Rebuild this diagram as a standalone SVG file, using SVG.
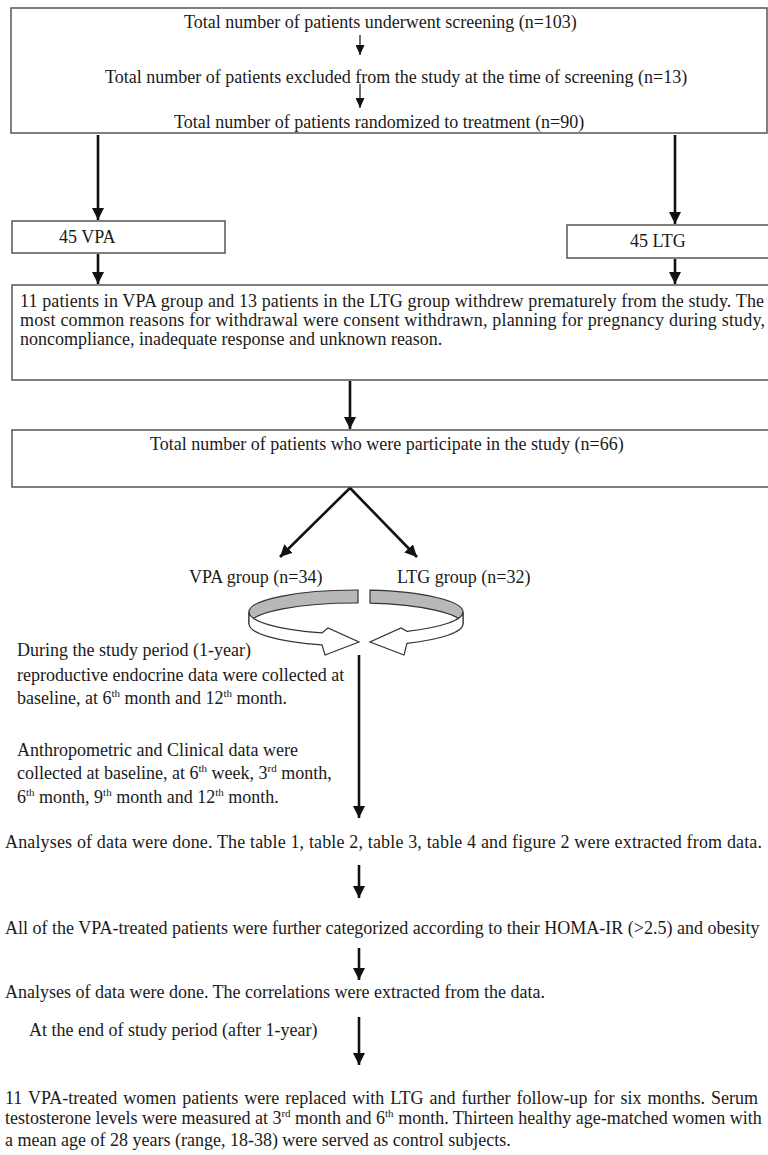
<svg xmlns="http://www.w3.org/2000/svg" width="768" height="1155" viewBox="0 0 768 1155">
<style>
.t{font-family:"Liberation Serif","Times New Roman",serif;font-size:18px;fill:#1a1a1a}
.s{font-size:11px}
.box{fill:#fff;stroke:#555;stroke-width:1.5}
.thin{stroke:#111;stroke-width:1.2;fill:none}
.thick{stroke:#111;stroke-width:2.6;fill:none}
.ring{stroke:#333;stroke-width:1.2}
</style>
<defs>
<marker id="ah" markerUnits="userSpaceOnUse" markerWidth="12" markerHeight="12" refX="12" refY="6" orient="auto"><path d="M0,0 L12,6 L0,12 Z" fill="#111"/></marker>
<marker id="as" markerUnits="userSpaceOnUse" markerWidth="10" markerHeight="9" refX="10" refY="4.5" orient="auto"><path d="M0,0 L10,4.5 L0,9 Z" fill="#111"/></marker>
</defs>
<rect width="768" height="1155" fill="#fff"/>

<g id="screening">
<rect class="box" x="11" y="8" width="756" height="125"/>
<text class="t" x="184" y="28">Total number of patients underwent screening (n=103)</text>
<text class="t" x="105" y="83">Total number of patients excluded from the study at the time of screening (n=13)</text>
<text class="t" x="174" y="128">Total number of patients randomized to treatment (n=90)</text>
</g>

<g id="vpa45">
<rect class="box" x="12" y="221" width="213" height="32"/>
<text class="t" x="59" y="243">45 VPA</text>
</g>

<g id="ltg45">
<rect class="box" x="567" y="225" width="220" height="33"/>
<text class="t" x="630" y="247">45 LTG</text>
</g>

<g id="withdrawn">
<rect class="box" x="12" y="285" width="780" height="95"/>
<text class="t" x="20" y="307" textLength="744" lengthAdjust="spacing">11 patients in VPA group and 13 patients in the LTG group withdrew prematurely from the study. The</text>
<text class="t" x="20" y="326" textLength="745" lengthAdjust="spacing">most common reasons for withdrawal were consent withdrawn, planning for pregnancy during study,</text>
<text class="t" x="20" y="344.5">noncompliance, inadequate response and unknown reason.</text>
</g>

<g id="participated">
<rect class="box" x="12" y="430" width="780" height="57"/>
<text class="t" x="150" y="450">Total number of patients who were participate in the study (n=66)</text>
</g>

<g id="vpa-group">
<text class="t" x="189" y="583">VPA group (n=34)</text>
</g>
<g id="ltg-group">
<text class="t" x="397" y="583">LTG group (n=32)</text>
</g>

<g id="cycle">
<path class="ring" fill="#b8b8b8" d="M358,590 A107,22 0 0 0 249,612 L249,624 A107,22 0 0 1 358,603 Z"/>
<path class="ring" fill="#fff" d="M249,612 A107,22 0 0 0 322,632.9 L328,628 L359,642 L325,655 L322,644.9 A107,22 0 0 1 249,624 Z"/>
<path class="ring" fill="#b8b8b8" d="M370,590.2 A107,22 0 0 1 463,612 L463,624 A107,22 0 0 0 370,603.2 Z"/>
<path class="ring" fill="#fff" d="M463,612 A107,22 0 0 1 407,631.3 L401,628 L370,642 L404,655 L407,643.3 A107,22 0 0 0 463,624 Z"/>
</g>

<g id="study-period">
<text class="t" x="17" y="656">During the study period (1-year)</text>
<text class="t" x="17" y="681">reproductive endocrine data were collected at</text>
<text class="t" x="17" y="704">baseline, at 6<tspan class="s" dy="-7">th</tspan><tspan dy="7"> month and 12</tspan><tspan class="s" dy="-7">th</tspan><tspan dy="7"> month.</tspan></text>
<text class="t" x="17" y="756">Anthropometric and Clinical data were</text>
<text class="t" x="17" y="779">collected at baseline, at 6<tspan class="s" dy="-7">th</tspan><tspan dy="7"> week, 3</tspan><tspan class="s" dy="-7">rd</tspan><tspan dy="7"> month,</tspan></text>
<text class="t" x="17" y="803">6<tspan class="s" dy="-7">th</tspan><tspan dy="7"> month, 9</tspan><tspan class="s" dy="-7">th</tspan><tspan dy="7"> month and 12</tspan><tspan class="s" dy="-7">th</tspan><tspan dy="7"> month.</tspan></text>
</g>

<g id="analyses1">
<text class="t" x="5" y="848" textLength="757" lengthAdjust="spacing">Analyses of data were done. The table 1, table 2, table 3, table 4 and figure 2 were extracted from data.</text>
</g>

<g id="categorized">
<text class="t" x="5" y="934">All of the VPA-treated patients were further categorized according to their HOMA-IR (&gt;2.5) and obesity</text>
</g>

<g id="analyses2">
<text class="t" x="5" y="998">Analyses of data were done. The correlations were extracted from the data.</text>
</g>

<g id="end-label">
<text class="t" x="29" y="1036">At the end of study period (after 1-year)</text>
</g>

<g id="replaced">
<text class="t" x="5" y="1104" word-spacing="1.5">11 VPA-treated women patients were replaced with LTG and further follow-up for six months. Serum</text>
<text class="t" x="5" y="1124" word-spacing="0">testosterone levels were measured at 3<tspan class="s" dy="-7">rd</tspan><tspan dy="7"> month and 6</tspan><tspan class="s" dy="-7">th</tspan><tspan dy="7"> month. Thirteen healthy age-matched women with</tspan></text>
<text class="t" x="5" y="1146">a mean age of 28 years (range, 18-38) were served as control subjects.</text>
</g>

<g id="connectors">
<line class="thin" x1="360" y1="35" x2="360" y2="55" marker-end="url(#as)"/>
<line class="thin" x1="360" y1="84" x2="360" y2="108" marker-end="url(#as)"/>
<line class="thick" x1="98" y1="135" x2="98" y2="220" marker-end="url(#ah)"/>
<line class="thick" x1="675" y1="135" x2="675" y2="224" marker-end="url(#ah)"/>
<line class="thick" x1="98" y1="254" x2="98" y2="284" marker-end="url(#ah)"/>
<line class="thick" x1="675" y1="259" x2="675" y2="284" marker-end="url(#ah)"/>
<line class="thick" x1="350" y1="381" x2="350" y2="429" marker-end="url(#ah)"/>
<line class="thick" x1="350" y1="488" x2="280" y2="557" marker-end="url(#ah)"/>
<line class="thick" x1="350" y1="488" x2="417" y2="557" marker-end="url(#ah)"/>
<line class="thick" x1="359" y1="655" x2="359" y2="818" marker-end="url(#ah)"/>
<line class="thick" x1="359" y1="865" x2="359" y2="898" marker-end="url(#ah)"/>
<line class="thick" x1="359" y1="948" x2="359" y2="980" marker-end="url(#ah)"/>
<line class="thick" x1="359" y1="1017" x2="359" y2="1065" marker-end="url(#ah)"/>
</g>
</svg>
